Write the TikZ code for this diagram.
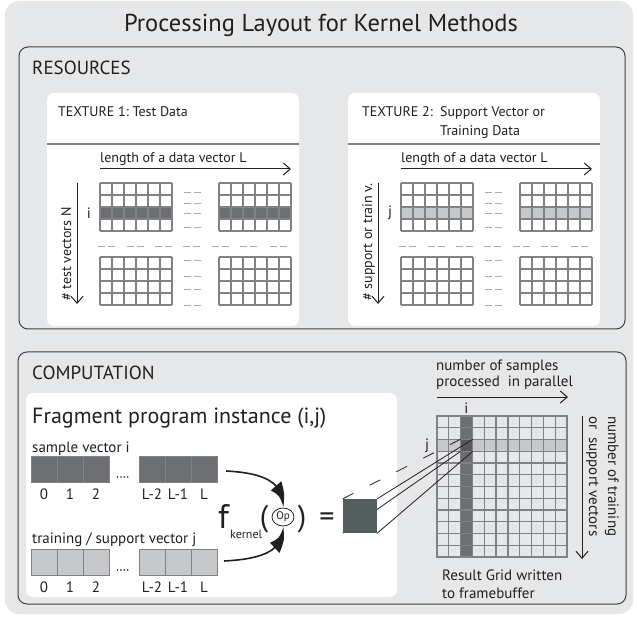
\documentclass[tikz,border=0pt]{standalone}
\usepackage{fontspec}
\setmainfont{PT Sans}
\usetikzlibrary{arrows.meta,bending,shapes.geometric}
\definecolor{bggray}{HTML}{E6E7E8}
\definecolor{framecol}{HTML}{414042}
\definecolor{gridcol}{HTML}{808285}
\definecolor{darkrow}{HTML}{6D6E71}
\definecolor{lightrow}{HTML}{C7C8CA}
\definecolor{crosscol}{HTML}{58595B}
\definecolor{resultcol}{HTML}{535D5E}
\definecolor{dashcol}{HTML}{A7A9AC}
\definecolor{inkcol}{HTML}{231F20}
\newcommand{\fsz}[1]{\fontsize{#1}{#1}\selectfont}

\begin{document}
\begin{tikzpicture}[x=1pt,y=1pt,
    every node/.style={inner sep=0pt, text=inkcol},
    lbl/.style={font=\fsz{14}},
    head/.style={font=\fsz{19}},
    frame/.style={draw=framecol, line width=1pt, rounded corners=9pt},
    card/.style={fill=white, rounded corners=7pt},
    axis/.style={draw=inkcol, line width=1pt, -{Straight Barb[length=7pt,width=12pt]}},
    kernarrow/.style={draw=inkcol, line width=1.6pt, -{Latex[length=26pt,width=14pt,bend]}},
    cellgrid/.style={draw=gridcol, line width=1.3pt},
    vcell/.style={draw=gridcol, line width=1pt, minimum size=26pt},
    gdash/.style={draw=dashcol, line width=0.8pt, dash pattern=on 7pt off 3pt},
  ]
  \useasboundingbox (0,0) rectangle (637,-617);
  \fill[bggray, rounded corners=14pt] (5,-1) rectangle (633,-614);
  \node[font=\fsz{24.5}, anchor=base] at (321,-32) (title) {Processing Layout for Kernel Methods};
  %%%%%%%%%%%%%%%%%%%%%%%%%%%%%%%%%%%%%%%%%%%%%%%
  \draw[frame] (19,-47) rectangle (625,-329);
  \node[head, anchor=base west] at (32,-75) (res) {RESOURCES};
  \fill[card] (47,-93) rectangle (299,-326);
  \fill[card] (348,-93) rectangle (600,-326);
  \node[lbl, anchor=base west] at (58,-117) (tex1) {TEXTURE 1:\ Test Data};
  \node[lbl, anchor=base west] at (362,-117) (tex2) {TEXTURE 2:};
  \node[font=\fontsize{14}{19}\selectfont, anchor=base west, align=left] at (440,-136) (tex2b) {Support Vector or\\Training Data};
  % both textures share the same layout
  \foreach \off/\rowcol/\idx/\side in {0/darkrow/i/{\# test vectors N},301/lightrow/j/{\# support or train v.}}{
    \draw[gridcol, line width=1.5pt] ({\off+47},-144) -- ({\off+299},-144);
    \coordinate (l\idx) at ({\off+100},-169);
    \coordinate (r\idx) at ({\off+291},-169);
    \draw[axis] (l\idx) -- (r\idx);
    \node[lbl, anchor=base west] at ({\off+100},-163) (len\idx) {length of a data vector L};
    \coordinate (t\idx) at ({\off+77},-183);
    \coordinate (b\idx) at ({\off+77},-304);
    \draw[axis] (t\idx) -- (b\idx);
    \node[lbl, rotate=90, anchor=base west] at ({\off+71},-301) (num\idx) {\side};
    \node[font=\fsz{15}] at ({\off+89},-213) (row\idx) {\idx};
    \fill[\rowcol] ({\off+100},-207) rectangle ({\off+172},-219);
    \fill[\rowcol] ({\off+219},-207) rectangle ({\off+291},-219);
    \foreach \gx in {100,219}
      \foreach \gy in {183,257}{
        \draw[cellgrid, shift={({\off+\gx},-\gy)}, step=12pt] (0,0) grid (72,-48);
      }
    \foreach \y in {192,203,213,227,260,276,289,305}
      \draw[gdash] ({\off+184},-\y) -- ({\off+201},-\y);
    \foreach \x in {98,127,155,183,212,240,270}
      \draw[gdash] ({\off+\x},-246) -- ({\off+\x+17},-246);
  }
  %%%%%%%%%%%%%%%%%%%%%%%%%%%%%%%%%%%%%%%%%%%%%%%
  \draw[frame] (18,-352) rectangle (626,-604);
  \node[head, anchor=base west] at (32,-380) (comp) {COMPUTATION};
  \fill[card] (26,-393) rectangle (397,-597);
  \node[font=\fsz{22}, anchor=base west] at (32,-423) (frag) {Fragment program instance (i,j)};
  \node[font=\fsz{15}, anchor=base west] at (32,-452) (svec) {sample vector i};
  \node[font=\fsz{15}, anchor=base west] at (32,-543) (tvec) {training / support vector j};
  \foreach \x/\n [count=\k] in {44/0,70/1,96/2,152/L-2,178/L-1,204/L}{
    \node[vcell, fill=darkrow] at (\x,-469) (s\k) {};
    \node[font=\fsz{15}, anchor=base] at (\x,-499) (sn\k) {\n};
    \node[vcell, fill=lightrow] at (\x,-562) (t\k) {};
    \node[font=\fsz{15}, anchor=base] at (\x,-592) (tn\k) {\n};
  }
  \foreach \d in {0,...,3}{
    \fill[inkcol] ({117.5+\d*3.4},-477) circle (0.9);
    \fill[inkcol] ({117.5+\d*3.4},-570) circle (0.9);
  }
  %%%%%%%%%%%%%%%%%%%%%%%%%%%%%%%%%%%%%%%%%%%%%%%
  \node[font=\fsz{34}, anchor=base west] at (218,-528) (f) {f};
  \node[font=\fsz{12}, anchor=base west] at (230,-538) (kern) {kernel};
  \node[font=\fsz{30}, anchor=base] at (264,-526) (lp) {(};
  \node[draw=inkcol, ellipse, line width=0.8pt, minimum width=22pt, minimum height=18pt, font=\fsz{11}] at (283,-517) (op) {Op};
  \node[font=\fsz{30}, anchor=base] at (302,-526) (rp) {)};
  \node[font=\fsz{30}, anchor=base] at (327,-526) (eq) {=};
  \coordinate (sa) at (226,-471);
  \coordinate (ta) at (224,-561);
  \draw[kernarrow] (sa) .. controls (264,-473) and (284,-482) .. (op.north);
  \draw[kernarrow] (ta) .. controls (264,-559) and (284,-550) .. (op.south);
  %%%%%%%%%%%%%%%%%%%%%%%%%%%%%%%%%%%%%%%%%%%%%%%
  \fill[lightrow] (437,-439.5) rectangle (567,-451.25);
  \fill[darkrow] (460.64,-416) rectangle (472.45,-557);
  \node[fill=crosscol, minimum width=11.8pt, minimum height=11.75pt] at (466.5,-445.4) (cij) {};
  \draw[cellgrid, shift={(437,-416)}, xstep=11.818pt, ystep=11.75pt] (0,0) grid (130,-141);
  \draw[cellgrid] (437,-416) rectangle (567,-557);
  \node[font=\fsz{15}] at (466.5,-408) (ci) {i};
  \node[font=\fsz{15}] at (427,-446) (cj) {j};
  \path (360,-516) node[minimum size=34pt] (sq) {};
  \draw[inkcol, line width=0.8pt] (sq.north east) -- (cij.north east)
        (sq.south east) -- (cij.south east)
        (sq.south west) -- (cij.south west);
  \draw[inkcol, line width=0.8pt, dash pattern=on 12pt off 18pt] (sq.north west) -- (cij.north west);
  \fill[resultcol] (sq.south west) rectangle (sq.north east);
  %%%%%%%%%%%%%%%%%%%%%%%%%%%%%%%%%%%%%%%%%%%%%%%
  \coordinate (pl) at (437,-397);
  \coordinate (pr) at (568,-397);
  \draw[axis] (pl) -- (pr);
  \node[font=\fontsize{15}{17}\selectfont, anchor=base west, align=left] at (436,-387) (par) {number of samples\\processed\ \ in parallel};
  \coordinate (vt) at (582,-416);
  \coordinate (vb) at (582,-559);
  \draw[axis] (vt) -- (vb);
  \node[font=\fontsize{15}{19}\selectfont, rotate=-90, anchor=north west, align=left] at (619,-416) (nt) {number of training\\or\ \ support vectors};
  \node[font=\fontsize{15}{18}\selectfont, anchor=base west, align=left] at (442,-598) (rg) {Result Grid written\\to framebuffer};
\end{tikzpicture}
\end{document}
